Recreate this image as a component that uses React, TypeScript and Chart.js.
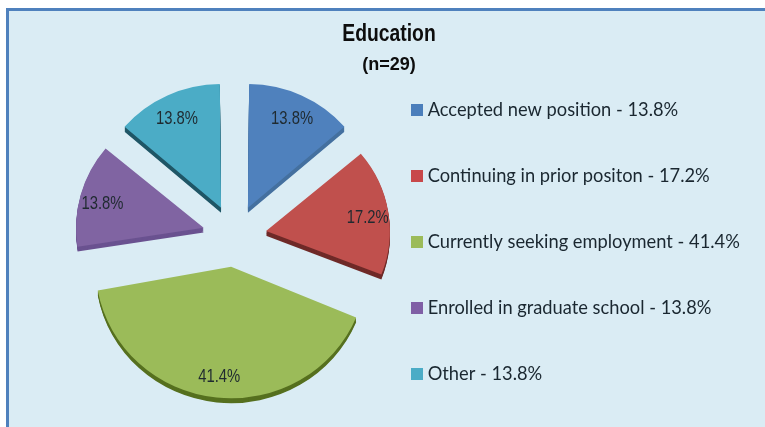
import React, { useEffect, useRef } from "react";
import { Chart, registerables } from "chart.js";

Chart.register(...registerables);

const categories = [
  "Accepted new position",
  "Continuing in prior positon",
  "Currently seeking employment",
  "Enrolled in graduate school",
  "Other",
];
const values = [13.8, 17.2, 41.4, 13.8, 13.8];
const faceColors = ["#4f81bd", "#c0504d", "#9bbb59", "#8064a2", "#4bacc6"];
const sideColors = ["#44709f", "#6f2a28", "#56701f", "#6a5290", "#1f5666"];
const legendColors = ["#4a7ebb", "#c8484a", "#9bbb59", "#7f5fa5", "#4bacc6"];
const titleText = "Education";
const subtitleText = "(n=29)";

const depthPx = 5;
const labelRadii = [105, 103, 111, 105, 105];
const labelDrop = 3;
const squash = 0.97;

const squashPlugin = {
  id: "squash",
  beforeDatasetsDraw(chart: any) {
    const { ctx, chartArea } = chart;
    const cy = (chartArea.top + chartArea.bottom) / 2;
    ctx.save();
    ctx.translate(0, cy);
    ctx.scale(1, squash);
    ctx.translate(0, -cy);
    const arcs = chart.getDatasetMeta(0).data;
    arcs.forEach((arc: any, i: number) => {
      const orig = arc.options;
      const side = Object.create(orig);
      Object.defineProperty(side, "backgroundColor", { value: sideColors[i] });
      Object.defineProperty(side, "borderColor", { value: sideColors[i] });
      arc.options = side;
      for (let d = depthPx; d >= 1; d--) {
        ctx.save();
        ctx.translate(0, d);
        arc.draw(ctx);
        ctx.restore();
      }
      arc.options = orig;
    });
  },
  afterDatasetsDraw(chart: any) {
    chart.ctx.restore();
  },
};

const sliceLabelPlugin = {
  id: "sliceLabels",
  afterDatasetsDraw(chart: any) {
    const { ctx, chartArea } = chart;
    const cy = (chartArea.top + chartArea.bottom) / 2;
    chart.getDatasetMeta(0).data.forEach((arc: any, i: number) => {
      const mid = (arc.startAngle + arc.endAngle) / 2;
      const r = (arc.options.offset || 0) / 4 + labelRadii[i];
      const px = arc.x + Math.cos(mid) * r;
      const py = cy + (arc.y - cy + Math.sin(mid) * r) * squash + labelDrop;
      ctx.save();
      ctx.translate(px, py);
      ctx.scale(0.78, 1);
      ctx.font = '19px "Liberation Sans"';
      ctx.fillStyle = "#1f2a30";
      ctx.textAlign = "center";
      ctx.textBaseline = "middle";
      ctx.fillText(values[i].toFixed(1) + "%", 0, 0);
      ctx.restore();
    });
  },
};

const placePlugin = {
  id: "place",
  afterLayout(chart: any) {
    const a = chart.chartArea;
    a.left = 50.5; a.right = 418.5; a.top = 52; a.bottom = 420;
    a.width = 368; a.height = 368;
    const l = chart.legend;
    const h = l.bottom - l.top;
    const w = l.right - l.left;
    l.left = 415.5 - l.options.labels.padding;
    l.right = l.left + w;
    l.top = 242 - h / 2;
    l.bottom = l.top + h;
    chart.boxes.forEach((box: any) => {
      const text = box.options && box.options.text;
      if (text !== titleText && text !== subtitleText) return;
      const sx = text === titleText ? 0.84 : 0.95;
      if (box.__narrowed) return;
      box.__narrowed = true;
      const draw = box.draw.bind(box);
      box.draw = (arg: any) => {
        const mx = (box.left + box.right) / 2;
        const ctx = chart.ctx;
        ctx.save();
        ctx.translate(mx, 0);
        ctx.scale(sx, 1);
        ctx.translate(-mx, 0);
        draw(arg);
        ctx.restore();
      };
    });
  },
};

export default function App() {
  const ref = useRef<HTMLCanvasElement>(null);
  useEffect(() => {
    const chart = new Chart(ref.current!, {
      type: "pie",
      data: {
        labels: categories,
        datasets: [
          {
            data: values,
            backgroundColor: faceColors,
            borderWidth: 0,
            offset: 128,
          },
        ],
      },
      plugins: [squashPlugin, sliceLabelPlugin, placePlugin],
      options: {
        responsive: false,
        animation: false,
        layout: { padding: { left: 13, right: 0, top: 0, bottom: 0 } },
        plugins: {
          tooltip: { enabled: false },
          title: {
            display: true,
            text: titleText,
            color: "#0d0d0d",
            font: { family: '"Liberation Sans"', size: 23, weight: "bold" },
            padding: { top: 21, bottom: 3 },
          },
          subtitle: {
            display: true,
            text: subtitleText,
            color: "#0d0d0d",
            font: { family: '"Liberation Sans"', size: 19, weight: "bold" },
            padding: { top: 2, bottom: 0 },
          },
          legend: {
            position: "right",
            labels: {
              font: { family: "Lato", size: 18.3 },
              color: "#1a2730",
              boxWidth: 3,
              boxHeight: 3,
              padding: 47.7,
              generateLabels: () =>
                categories.map((c, i) => ({
                  text: `${c} - ${values[i].toFixed(1)}%`,
                  fillStyle: legendColors[i],
                  strokeStyle: legendColors[i],
                  lineWidth: 9,
                  index: i,
                  fontColor: "#1a2730",
                })),
            },
          },
        },
      },
    } as any);
    return () => chart.destroy();
  }, []);
  return (
    <div style={{ position: "absolute", left: 0, top: 0, width: 765, height: 427, overflow: "hidden", background: "#fff" }}>
      <div style={{ position: "absolute", left: 6, top: 8, width: 800, height: 460, borderLeft: "3px solid #4f81bd", borderTop: "3px solid #4f81bd", background: "#daecf4" }} />
      <canvas ref={ref} width={765} height={427} style={{ position: "absolute", left: 0, top: 0, display: "block" }} />
    </div>
  );
}
